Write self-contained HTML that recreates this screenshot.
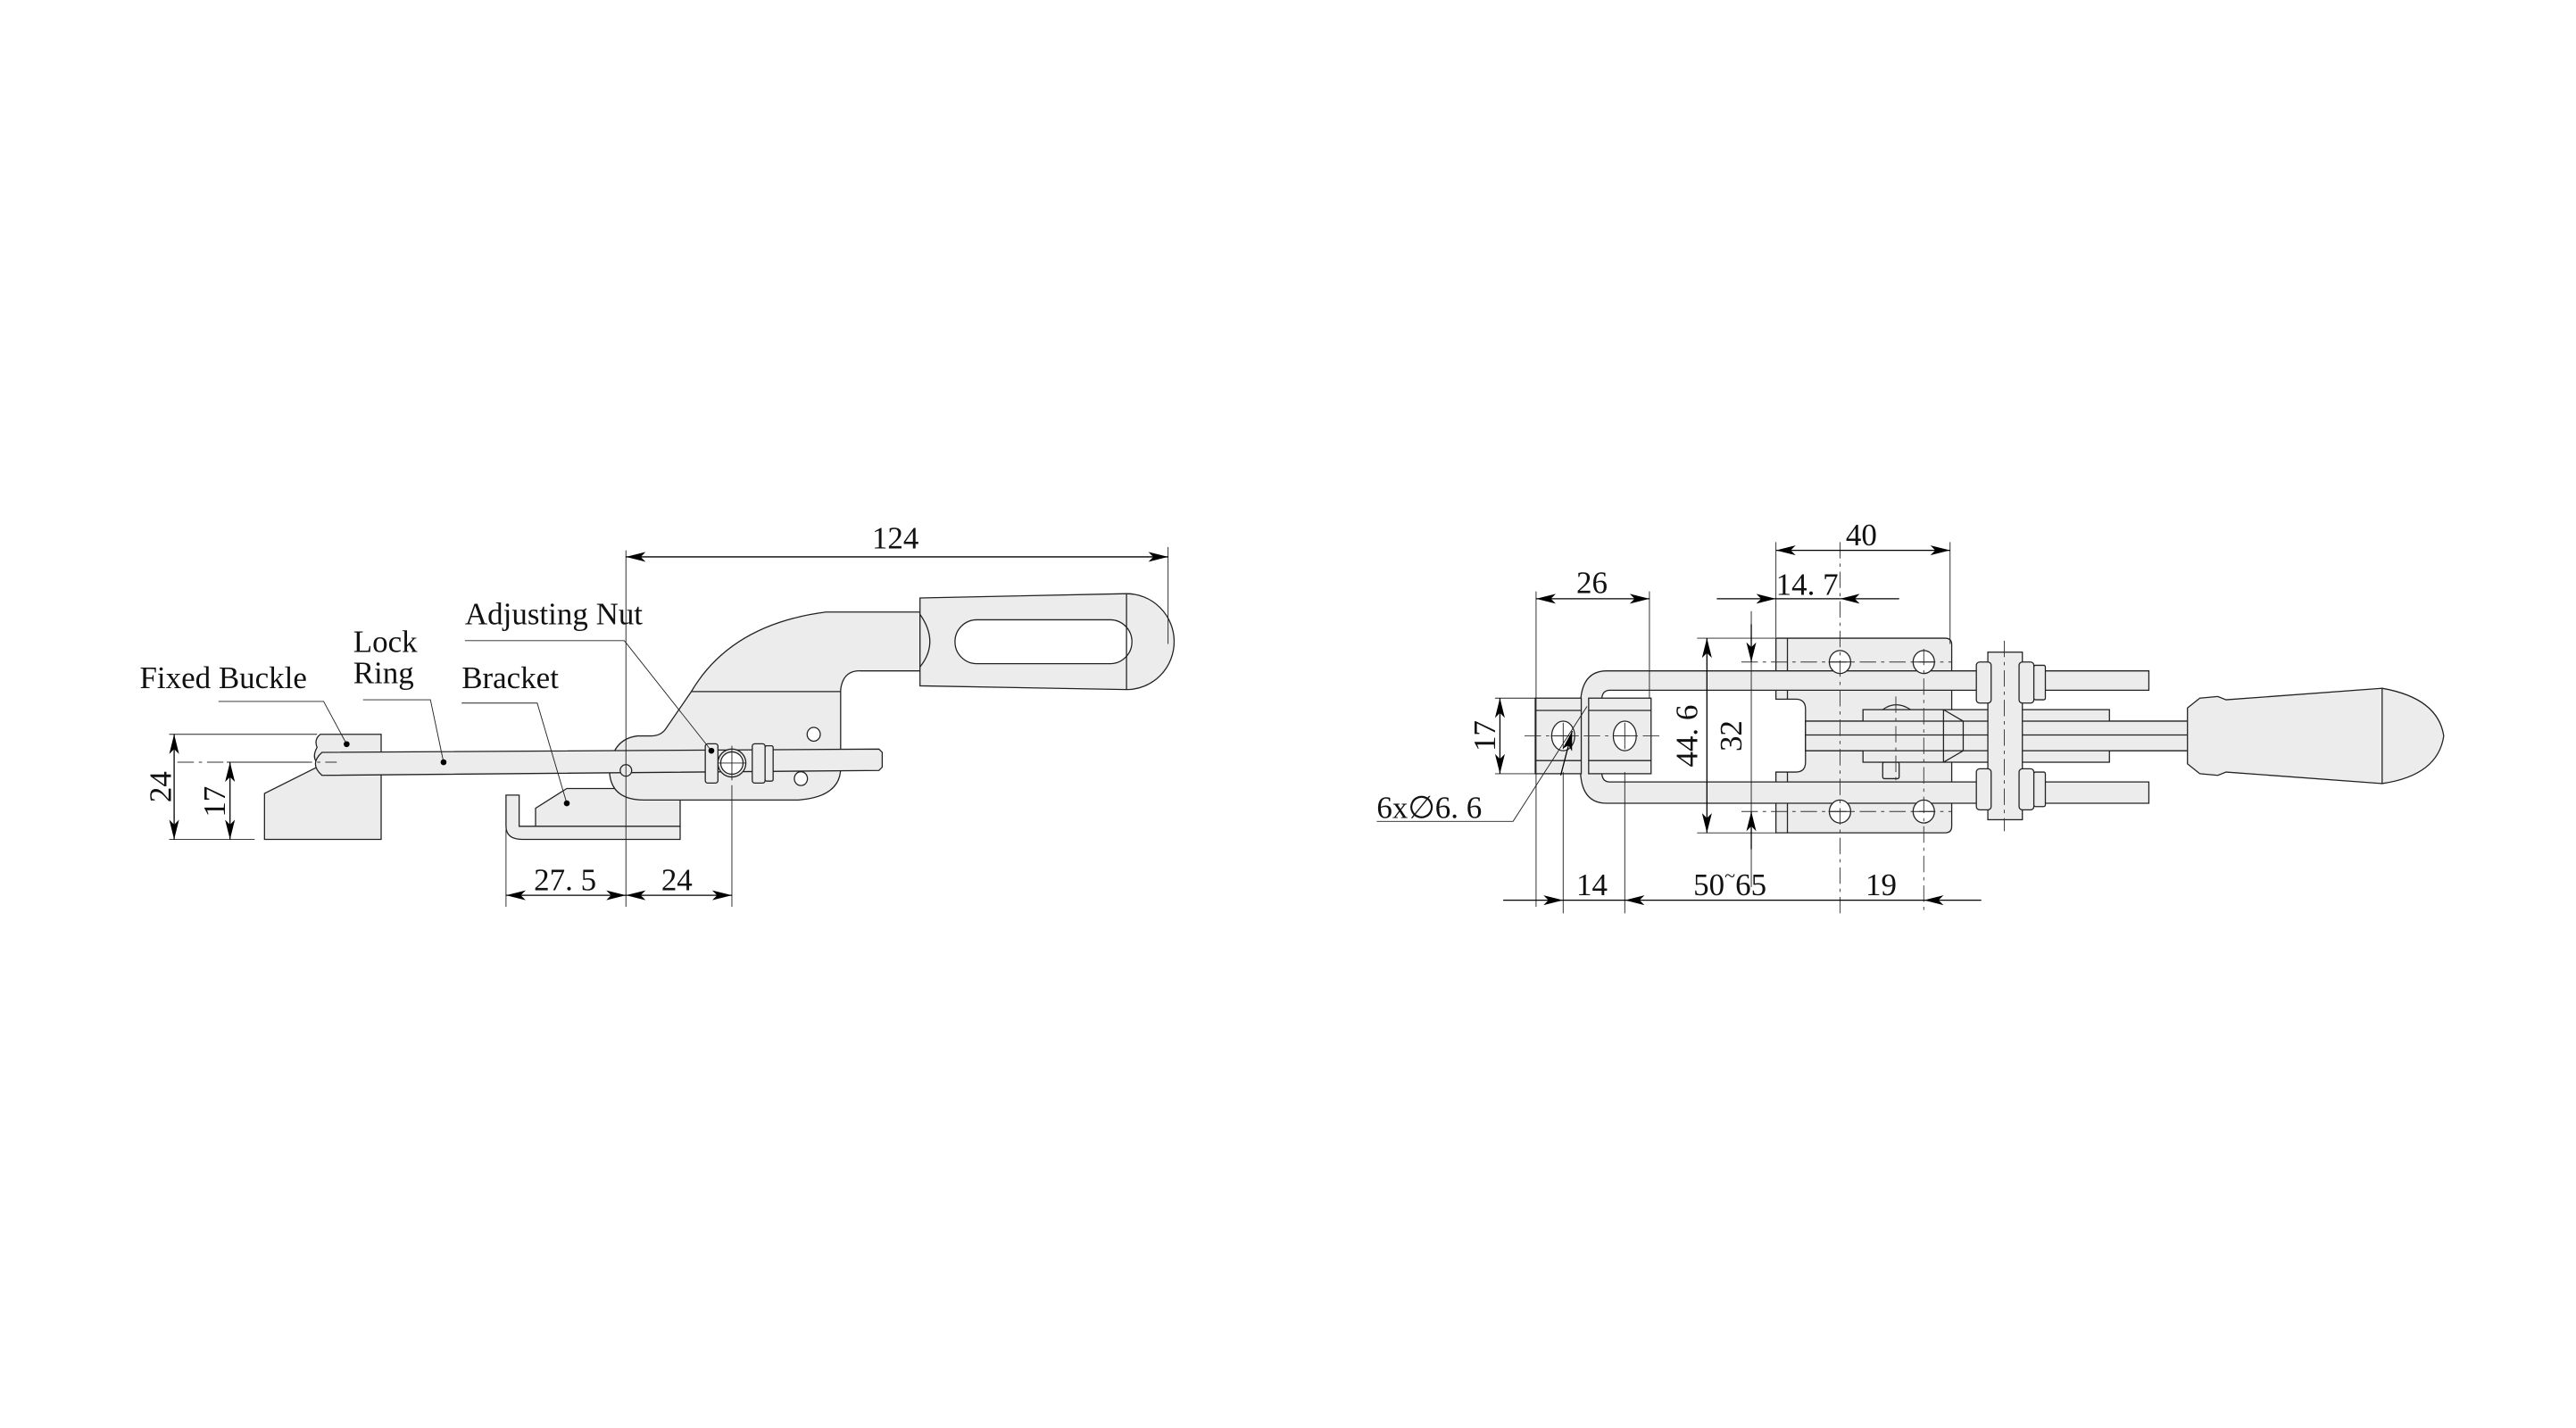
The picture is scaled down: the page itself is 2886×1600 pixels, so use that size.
<!DOCTYPE html>
<html><head><meta charset="utf-8"><style>
html,body{margin:0;padding:0;background:#fff;}
svg{display:block;}
text{font-family:"Liberation Serif",serif;fill:#111;}
</style></head><body>
<svg width="2886" height="1600" viewBox="0 0 1568 869.3" preserveAspectRatio="none" xmlns="http://www.w3.org/2000/svg">
<defs>
<marker id="a" viewBox="0 0 12 6" refX="12" refY="3" markerWidth="12" markerHeight="6" orient="auto-start-reverse" markerUnits="userSpaceOnUse"><path d="M0,0 L12,3 L0,6 L3,3 z" fill="#000"/></marker>
</defs>
<g fill="#ececec" stroke="#222" stroke-width="0.7">
<!-- LEFT: fixed buckle -->
<path d="M195,447 L232,447 L232,511 L161,511 L161,483 L195,466 Q189,462 193,455 Q191,450 195,447 z"/>
<!-- bracket L -->
<path d="M308,484 L316,484 L316,503 L414,503 L414,511 L318,511 Q308,511 308,503 z"/>
<path d="M326,503 L326,492 L345,480 L414,480 L414,503 z"/>
<!-- lever/plate -->
<path d="M560,372.6 L502.8,372.6 Q445,380 420.8,421 L405,444 Q402,448 396,448 L388,448 Q372,450 371,470 Q372,487 392,487 L486,487 Q512,485 511.7,467 L511.7,420 Q513,408 524,408.4 L560,408.4 z"/>
<line x1="420.8" y1="421" x2="511.7" y2="421"/>
<!-- handle -->
<path d="M560,364 L685.7,361.4 A29,29.2 0 0 1 685.7,419.8 L560,417.5 z"/>
<rect x="581.3" y="377.3" width="107.7" height="26.7" rx="13.3" fill="#fff"/>
<line x1="685.7" y1="361.4" x2="685.7" y2="419.8"/>
<path d="M560,374 Q572,391 560,406" fill="none"/>
<!-- rod -->
<path d="M196,458 L535,456 L537,458 L537,467 L535,469 L196,472 Q188,465 196,458 z"/>
<!-- holes -->
<ellipse cx="495.3" cy="447" rx="4" ry="4.2" fill="#fff"/>
<ellipse cx="487.5" cy="474" rx="4" ry="4.2" fill="#fff"/>
<circle cx="381" cy="469" r="3.5"/>
<!-- adjusting nut -->
<circle cx="445.5" cy="464.5" r="8.5"/>
<circle cx="445.5" cy="464.5" r="6.8" fill="#fff"/>
<rect x="429.3" y="452.8" width="7.7" height="23.9" rx="1.5"/>
<rect x="457.9" y="452.8" width="7.8" height="23.9" rx="1.5"/>
<rect x="465.7" y="454" width="4.9" height="21.5" rx="1"/>
<!-- RIGHT: base plate -->
<path d="M1081,388.5 L1184,388.5 Q1188,388.5 1188,392.5 L1188,503 Q1188,507 1184,507 L1081,507 L1081,470 L1093,470 Q1099,470 1099,464 L1099,431.6 Q1099,425.6 1093,425.6 L1081,425.6 z"/>
<line x1="1088" y1="388.5" x2="1088" y2="425.6"/><line x1="1088" y1="470" x2="1088" y2="507"/>
<!-- U-bar -->
<path d="M1308,408.4 L978,408.4 Q962,408.4 962,430 L962,468 Q962,489 978,489 L1308,489 L1308,476 L980,476 Q975,476 975,470 L975,426 Q975,420.2 980,420.2 L1308,420.2 z"/>
<!-- left mount block -->
<rect x="934.5" y="425" width="28" height="46"/>
<rect x="967" y="425" width="38" height="46"/>
<line x1="934.5" y1="432.5" x2="962.5" y2="432.5"/><line x1="934.5" y1="463" x2="962.5" y2="463"/>
<line x1="967" y1="432.5" x2="1005" y2="432.5"/><line x1="967" y1="463" x2="1005" y2="463"/>
<!-- shaft + block -->
<rect x="1099" y="439" width="234" height="18"/>
<line x1="1099" y1="447.4" x2="1333" y2="447.4"/>
<path d="M1146,432 Q1154,426 1163,432 z"/>
<rect x="1146" y="464" width="10" height="10" rx="1"/>
<rect x="1134" y="432" width="150" height="32"/>
<rect x="1099" y="439" width="234" height="18"/>
<line x1="1099" y1="447.4" x2="1333" y2="447.4"/>
<path d="M1183,432 L1195,439 L1195,457 L1183,464" fill="none"/>
<line x1="1183" y1="432" x2="1183" y2="464"/>
<!-- nut plate -->
<rect x="1210" y="397" width="21" height="102"/>
<rect x="1203" y="403" width="9" height="25" rx="2"/>
<rect x="1229" y="403" width="9" height="25" rx="2"/>
<rect x="1238" y="405" width="7" height="21" rx="1"/>
<rect x="1203" y="468" width="9" height="25" rx="2"/>
<rect x="1229" y="468" width="9" height="25" rx="2"/>
<rect x="1238" y="470" width="7" height="21" rx="1"/>
<!-- grip -->
<path d="M1331.5,431 L1339,425 L1350,424 L1355,426 L1450,419 Q1484,425 1487.5,448 Q1484,472 1450,477 L1355,470 L1350,472 L1339,471 L1331.5,465 z"/>
<line x1="1450" y1="419" x2="1450" y2="477"/>
</g>
<!-- holes right -->
<g fill="#fff" stroke="#222" stroke-width="0.7">
<ellipse cx="1120" cy="403" rx="6.5" ry="7"/><ellipse cx="1171" cy="403" rx="6.5" ry="7"/>
<ellipse cx="1120" cy="494" rx="6.5" ry="7"/><ellipse cx="1171" cy="494" rx="6.5" ry="7"/>
<ellipse cx="951.5" cy="448" rx="7" ry="9"/><ellipse cx="989" cy="448" rx="7" ry="9"/>
</g>
<!-- centre/dash lines -->
<g stroke="#333" stroke-width="0.5" fill="none" stroke-dasharray="10,3,2,3">
<line x1="1060" y1="403" x2="1188" y2="403"/><line x1="1060" y1="494" x2="1188" y2="494"/>
<line x1="1120" y1="330" x2="1120" y2="556"/><line x1="1171" y1="395" x2="1171" y2="556"/>
<line x1="928" y1="448" x2="1010" y2="448"/>
<line x1="1220" y1="390" x2="1220" y2="506"/>
<line x1="1154" y1="424" x2="1154" y2="476"/>
<line x1="108" y1="464" x2="205" y2="464"/>
</g>
<g stroke="#222" stroke-width="0.5" fill="none">
<line x1="437" y1="464.5" x2="454" y2="464.5"/><line x1="445.5" y1="454" x2="445.5" y2="475"/>
<line x1="944" y1="448" x2="959" y2="448"/><line x1="951.5" y1="440" x2="951.5" y2="456"/>
<line x1="982" y1="448" x2="996" y2="448"/><line x1="989" y1="440" x2="989" y2="456"/>
<line x1="1113" y1="403" x2="1127" y2="403"/><line x1="1164" y1="403" x2="1178" y2="403"/>
<line x1="1113" y1="494" x2="1127" y2="494"/><line x1="1164" y1="494" x2="1178" y2="494"/>
<!-- left extension lines -->
<line x1="381" y1="335" x2="381" y2="552"/>
<line x1="711" y1="333" x2="711" y2="392"/>
<line x1="445.5" y1="478" x2="445.5" y2="552"/>
<line x1="308" y1="505" x2="308" y2="552"/>
<line x1="103" y1="447" x2="193" y2="447"/>
<line x1="138" y1="464" x2="188" y2="464"/>
<line x1="103" y1="511" x2="155" y2="511"/>
<!-- right extension lines -->
<line x1="1081" y1="330" x2="1081" y2="388"/>
<line x1="1187" y1="330" x2="1187" y2="392"/>
<line x1="935" y1="360" x2="935" y2="552"/>
<line x1="1004" y1="360" x2="1004" y2="425"/>
<line x1="951.5" y1="470" x2="951.5" y2="556"/>
<line x1="989" y1="470" x2="989" y2="556"/>
<line x1="1033" y1="388.5" x2="1081" y2="388.5"/>
<line x1="1033" y1="507" x2="1081" y2="507"/>
<line x1="910" y1="425" x2="935" y2="425"/>
<line x1="910" y1="471" x2="935" y2="471"/>
<!-- leaders -->
<polyline points="133,427 197,427 211,453"/>
<polyline points="221,426 262,426 270,464"/>
<polyline points="281,428 327,428 345,489"/>
<polyline points="283,390 380,390 433,457"/>
<polyline points="838,500 921,500 966,430"/>
<line x1="1066" y1="372" x2="1066" y2="540"/>
</g>
<g fill="#000">
<circle cx="211" cy="453" r="1.8"/><circle cx="270" cy="464" r="1.8"/><circle cx="345" cy="489" r="1.8"/><circle cx="433" cy="457" r="1.8"/>
</g>
<!-- dimension lines with arrows -->
<g stroke="#000" stroke-width="0.7" fill="none">
<line x1="381" y1="339" x2="711" y2="339" marker-start="url(#a)" marker-end="url(#a)"/>
<line x1="308" y1="545" x2="381" y2="545" marker-start="url(#a)" marker-end="url(#a)"/>
<line x1="381" y1="545" x2="445.5" y2="545" marker-start="url(#a)" marker-end="url(#a)"/>
<line x1="106" y1="447" x2="106" y2="511" marker-start="url(#a)" marker-end="url(#a)"/>
<line x1="140" y1="464" x2="140" y2="511" marker-start="url(#a)" marker-end="url(#a)"/>
<line x1="1081" y1="335" x2="1187" y2="335" marker-start="url(#a)" marker-end="url(#a)"/>
<line x1="935" y1="364.5" x2="1004" y2="364.5" marker-start="url(#a)" marker-end="url(#a)"/>
<line x1="1045" y1="364.5" x2="1081" y2="364.5" marker-end="url(#a)"/>
<line x1="1156" y1="364.5" x2="1120" y2="364.5" marker-end="url(#a)"/>
<line x1="1081" y1="364.5" x2="1120" y2="364.5"/>
<line x1="1039" y1="388.5" x2="1039" y2="507" marker-start="url(#a)" marker-end="url(#a)"/>
<line x1="1066" y1="380" x2="1066" y2="403" marker-end="url(#a)"/>
<line x1="1066" y1="517" x2="1066" y2="494" marker-end="url(#a)"/>
<line x1="913" y1="425" x2="913" y2="471" marker-start="url(#a)" marker-end="url(#a)"/>
<line x1="915" y1="548" x2="951.5" y2="548" marker-end="url(#a)"/>
<line x1="951.5" y1="548" x2="989" y2="548"/>
<line x1="1120" y1="548" x2="989" y2="548" marker-end="url(#a)"/>
<line x1="1120" y1="548" x2="1171" y2="548"/>
<line x1="1206" y1="548" x2="1171" y2="548" marker-end="url(#a)"/>
<line x1="950" y1="472" x2="957" y2="445" marker-end="url(#a)"/>
</g>
<!-- labels -->
<g font-size="19">
<text x="85" y="419">Fixed Buckle</text>
<text x="215" y="397">Lock</text>
<text x="215" y="416">Ring</text>
<text x="281" y="419">Bracket</text>
<text x="283" y="380">Adjusting Nut</text>
</g>
<g font-size="19">
<text x="545" y="334" text-anchor="middle">124</text>
<text x="344" y="542" text-anchor="middle">27. 5</text>
<text x="412" y="542" text-anchor="middle">24</text>
<text transform="translate(104,479) rotate(-90)" text-anchor="middle">24</text>
<text transform="translate(137,488) rotate(-90)" text-anchor="middle">17</text>
<text x="1133" y="332" text-anchor="middle">40</text>
<text x="969" y="361" text-anchor="middle">26</text>
<text x="1100" y="362" text-anchor="middle">14. 7</text>
<text transform="translate(1033,448) rotate(-90)" text-anchor="middle">44. 6</text>
<text transform="translate(1060,448) rotate(-90)" text-anchor="middle">32</text>
<text transform="translate(910,448) rotate(-90)" text-anchor="middle">17</text>
<text x="969" y="545" text-anchor="middle">14</text>
<text x="1053" y="545" text-anchor="middle">50<tspan dy="-8" font-size="12">~</tspan><tspan dy="8">65</tspan></text>
<text x="1145" y="545" text-anchor="middle">19</text>
<text x="838" y="498">6x∅6. 6</text>
</g>
</svg>
</body></html>
